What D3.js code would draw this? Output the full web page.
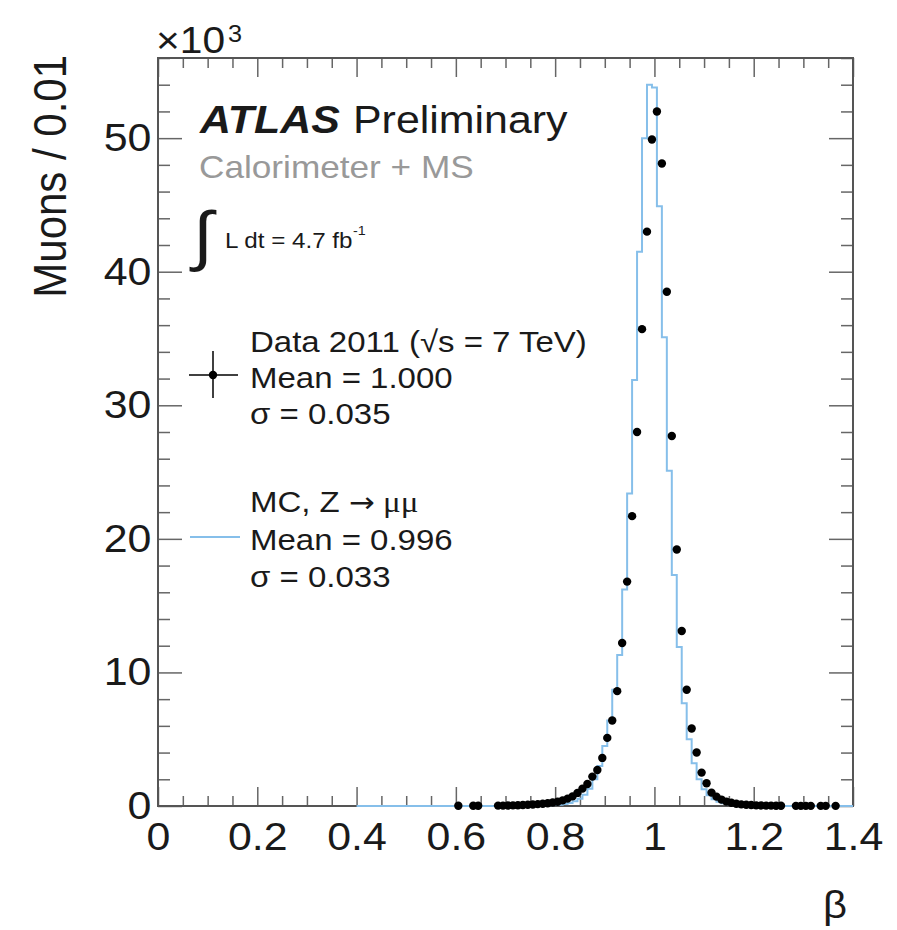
<!DOCTYPE html>
<html>
<head>
<meta charset="utf-8">
<script src="https://cdn.jsdelivr.net/npm/d3@7"></script>
<style>
  html, body { margin: 0; padding: 0; background: #fff; }
  svg { display: block; }
  text { font-family: "Liberation Sans", Arial, Helvetica, sans-serif; }
</style>
</head>
<body>
<svg id="chart" width="897" height="930"></svg>
<script>
// Measured muon velocity beta, bins of width 0.01 (counts in units of 10^3)
const dataBeta = [
  0.605, 0.635, 0.645,
  0.685, 0.695, 0.705, 0.715, 0.725, 0.735, 0.745, 0.755, 0.765, 0.775, 0.785, 0.795, 0.805,
  0.815, 0.825, 0.835, 0.845, 0.855, 0.865, 0.875, 0.885, 0.895, 0.905,
  0.915, 0.925, 0.935, 0.945, 0.955, 0.965, 0.975, 0.985, 0.995, 1.005,
  1.015, 1.025, 1.035, 1.045, 1.055, 1.065, 1.075, 1.085, 1.095, 1.105,
  1.115, 1.125, 1.135, 1.145, 1.155, 1.165, 1.175, 1.185, 1.195, 1.205,
  1.215, 1.225, 1.235, 1.245, 1.255,
  1.285, 1.295, 1.305, 1.315, 1.335, 1.345, 1.365
];
const dataCounts = [
  0.02, 0.02, 0.02,
  0.03, 0.03, 0.04, 0.05, 0.06, 0.07, 0.09, 0.11, 0.14, 0.17, 0.21, 0.26, 0.32,
  0.42, 0.55, 0.72, 0.98, 1.3, 1.65, 2.2, 2.7, 3.6, 5.1,
  6.4, 8.6, 12.2, 16.8, 21.7, 28.0, 35.7, 43.0, 49.9, 52.0,
  48.1, 38.5, 27.7, 19.2, 13.1, 8.7, 5.8, 4.0, 2.5, 1.7,
  1.0, 0.7, 0.48, 0.33, 0.24, 0.17, 0.12, 0.09, 0.07, 0.05,
  0.04, 0.03, 0.03, 0.02, 0.02,
  0.01, 0.01, 0.01, 0.01, 0.01, 0.01, 0.01
];

// Simulated Z -> mumu, bin centres and contents (units of 10^3)
const mcCenters = [
  0.77, 0.78, 0.79, 0.80, 0.81, 0.82, 0.83, 0.84, 0.85, 0.86, 0.87, 0.88, 0.89, 0.90,
  0.91, 0.92, 0.93, 0.94, 0.95, 0.96, 0.97, 0.98, 0.99, 1.00,
  1.01, 1.02, 1.03, 1.04, 1.05, 1.06, 1.07, 1.08, 1.09, 1.10,
  1.11, 1.12, 1.13, 1.14, 1.15, 1.16, 1.17, 1.18, 1.19
];
const mcCounts = [
  0.02, 0.03, 0.05, 0.07, 0.10, 0.15, 0.22, 0.35, 0.55, 0.85, 1.3, 2.0, 3.0, 4.5,
  6.4, 8.7, 11.3, 16.2, 23.4, 31.9, 41.5, 50.0, 54.0, 53.8,
  44.9, 35.1, 25.1, 17.3, 11.9, 7.7, 5.0, 3.2, 2.0, 1.25,
  0.8, 0.5, 0.32, 0.2, 0.13, 0.08, 0.05, 0.03, 0.02
];
const mcBinWidth = 0.01;
const mcRange = [0.4, 1.4];

// Axis ticks
const xMajorTicks = [0, 0.2, 0.4, 0.6, 0.8, 1, 1.2, 1.4];
const xTickLabels = ["0", "0.2", "0.4", "0.6", "0.8", "1", "1.2", "1.4"];
const yMajorTicks = [0, 10, 20, 30, 40, 50];
const yTickLabels = ["0", "10", "20", "30", "40", "50"];

const legendData = ["Data 2011 (\u221As = 7 TeV)", "Mean = 1.000", "\u03C3 = 0.035"];
const legendMC = ["Mean = 0.996", "\u03C3 = 0.033"];

const mcColor = "#86bfea";
const frameColor = "#555";
const textColor = "#1a1a1a";
const sx = 1.1; // horizontal glyph stretch

const svg = d3.select("#chart");
const L = 158, R = 853, T = 58, B = 806;

const x = d3.scaleLinear().domain([0, 1.4]).range([L, R]);
const y = d3.scaleLinear().domain([0, 56]).range([B, T]);

const xMinor = d3.range(0, 1.4001, 0.05).filter(v => !xMajorTicks.some(m => Math.abs(m - v) < 1e-6));
const yMinor = d3.range(0, 56.001, 2).filter(v => v % 10 !== 0);

function styleAxis(g) {
  g.select(".domain").remove();
  g.selectAll(".tick line").attr("stroke", "#666").attr("stroke-width", 1.5);
}

// Bottom axis (ticks point into the frame)
svg.append("g").attr("transform", `translate(0,${B})`)
  .call(d3.axisBottom(x).tickValues(xMajorTicks).tickSize(-19).tickPadding(16)
    .tickFormat((d, i) => xTickLabels[i]))
  .call(styleAxis)
  .call(g => g.selectAll("text").attr("font-size", 39).attr("fill", textColor)
    .attr("font-family", "Liberation Sans, Arial, sans-serif")
    .attr("transform", `scale(${sx},1)`));
svg.append("g").attr("transform", `translate(0,${B})`)
  .call(d3.axisBottom(x).tickValues(xMinor).tickSize(-10).tickFormat(""))
  .call(styleAxis);

// Top axis
svg.append("g").attr("transform", `translate(0,${T})`)
  .call(d3.axisTop(x).tickValues(xMajorTicks).tickSize(-19).tickFormat(""))
  .call(styleAxis);
svg.append("g").attr("transform", `translate(0,${T})`)
  .call(d3.axisTop(x).tickValues(xMinor).tickSize(-10).tickFormat(""))
  .call(styleAxis);

// Left axis
svg.append("g").attr("transform", `translate(${L},0)`)
  .call(d3.axisLeft(y).tickValues(yMajorTicks).tickSize(-24).tickPadding(6)
    .tickFormat((d, i) => yTickLabels[i]))
  .call(styleAxis)
  .call(g => g.selectAll("text").attr("font-size", 39).attr("fill", textColor)
    .attr("font-family", "Liberation Sans, Arial, sans-serif")
    .attr("transform", `scale(${sx},1)`));
svg.append("g").attr("transform", `translate(${L},0)`)
  .call(d3.axisLeft(y).tickValues(yMinor).tickSize(-12).tickFormat(""))
  .call(styleAxis);

// Right axis
svg.append("g").attr("transform", `translate(${R},0)`)
  .call(d3.axisRight(y).tickValues(yMajorTicks).tickSize(-24).tickFormat(""))
  .call(styleAxis);
svg.append("g").attr("transform", `translate(${R},0)`)
  .call(d3.axisRight(y).tickValues(yMinor).tickSize(-12).tickFormat(""))
  .call(styleAxis);

// Frame
svg.append("rect").attr("x", L).attr("y", T).attr("width", R - L).attr("height", B - T)
  .attr("fill", "none").attr("stroke", frameColor).attr("stroke-width", 2);

// MC step histogram
const mcPts = [[mcRange[0], 0], [mcCenters[0] - mcBinWidth / 2, 0]];
mcCenters.forEach((c, i) => {
  mcPts.push([c - mcBinWidth / 2, mcCounts[i]]);
  mcPts.push([c + mcBinWidth / 2, mcCounts[i]]);
});
mcPts.push([mcCenters[mcCenters.length - 1] + mcBinWidth / 2, 0]);
mcPts.push([mcRange[1], 0]);
svg.append("path")
  .attr("d", d3.line().x(d => x(d[0])).y(d => y(d[1]))(mcPts))
  .attr("fill", "none").attr("stroke", mcColor).attr("stroke-width", 2);

// Data points
svg.append("g").selectAll("circle").data(dataBeta).join("circle")
  .attr("cx", d => x(d)).attr("cy", (d, i) => y(dataCounts[i]))
  .attr("r", 4.2).attr("fill", "#000");

// Text helper with the horizontal stretch
function label(px, py, str, opts = {}) {
  const t = svg.append("text")
    .attr("transform", `translate(${px},${py}) scale(${sx},1)`)
    .attr("font-size", opts.size || 30)
    .attr("fill", opts.color || textColor)
    .attr("text-anchor", opts.anchor || "start")
    .text(str);
  if (opts.weight) t.attr("font-weight", opts.weight);
  if (opts.style) t.attr("font-style", opts.style);
  if (opts.family) t.attr("font-family", opts.family);
  return t;
}

// Axis titles
svg.append("text")
  .attr("transform", `translate(66,${T - 3}) scale(${sx},1) rotate(-90)`)
  .attr("text-anchor", "end").attr("font-size", 42).attr("fill", textColor)
  .text("Muons / 0.01");
label(847, 918, "\u03B2", { size: 38, anchor: "end", family: "Liberation Serif, serif" });

// Exponent
label(156, 53, "\u00D710", { size: 37 });
label(228, 42, "3", { size: 23 });

// ATLAS label
label(200, 133, "ATLAS", { size: 39, weight: "bold", style: "italic" });
label(353, 133, "Preliminary", { size: 39 });
label(199, 178, "Calorimeter + MS", { size: 32, color: "#999" });
label(193, 258, "\u222B", { size: 66, family: "DejaVu Sans, sans-serif" });
label(225, 248, "L dt = 4.7 fb", { size: 22 });
label(353, 235, "-1", { size: 13 });

// Legend: data
svg.append("line").attr("x1", 189).attr("x2", 238).attr("y1", 375).attr("y2", 375)
  .attr("stroke", "#000").attr("stroke-width", 1.5);
svg.append("line").attr("x1", 213).attr("x2", 213).attr("y1", 351).attr("y2", 398)
  .attr("stroke", "#000").attr("stroke-width", 1.5);
svg.append("circle").attr("cx", 213).attr("cy", 375).attr("r", 4.2).attr("fill", "#000");
legendData.forEach((s, i) => label(250, 352 + i * 36, s, { size: 30 }));

// Legend: MC
svg.append("line").attr("x1", 190).attr("x2", 240).attr("y1", 537).attr("y2", 537)
  .attr("stroke", mcColor).attr("stroke-width", 2);
const mcTitle = label(250, 512, "", { size: 30 });
mcTitle.append("tspan").text("MC, Z ");
mcTitle.append("tspan").attr("font-family", "DejaVu Sans, sans-serif").attr("font-size", 28).text("\u2192");
mcTitle.append("tspan").attr("font-family", "Liberation Serif, serif").text(" \u03BC\u03BC");
legendMC.forEach((s, i) => label(250, 549.5 + i * 37.5, s, { size: 30 }));
</script>
</body>
</html>
